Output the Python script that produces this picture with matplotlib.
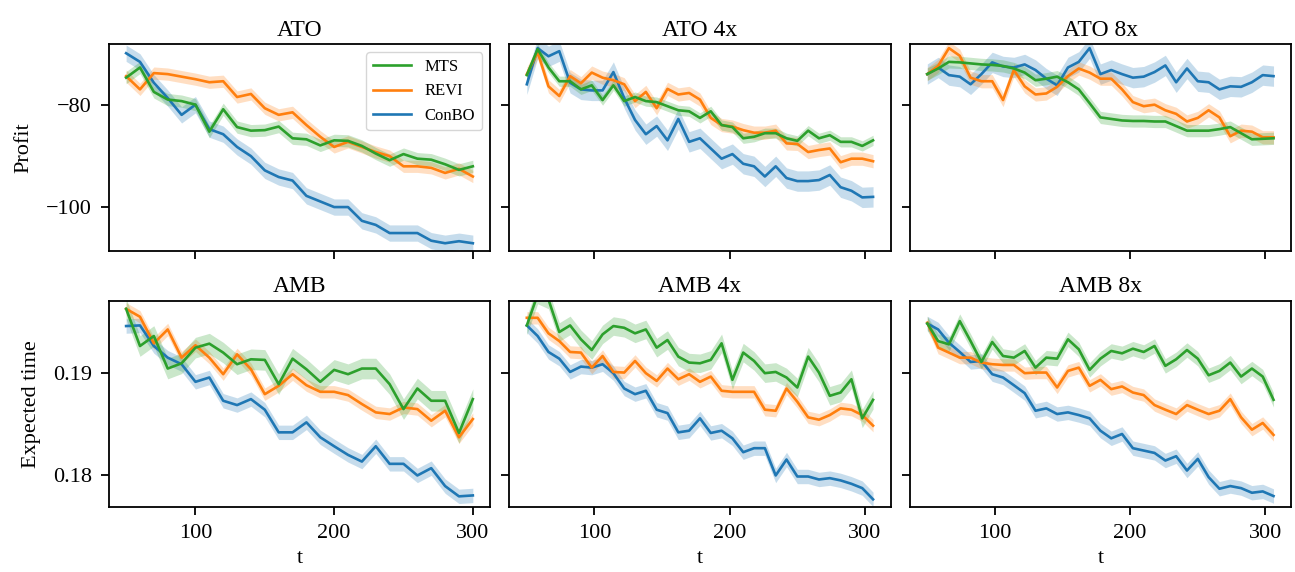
import numpy as np
import matplotlib.pyplot as plt

plt.rcParams['font.family'] = ['Liberation Serif', 'DejaVu Serif']
plt.rcParams['mathtext.fontset'] = 'stix'

# x grids
t_base = np.arange(50, 301, 10)
t_big = np.arange(50, 307, 8)

# ATO
ato_conbo = [-69.9, -71.6, -75.7, -78.7, -82.0, -80.0, -84.8, -85.8, -88.3, -90.1, -92.9, -94.2, -94.9,
             -97.9, -99.0, -100.1, -100.1, -102.8, -103.6, -105.2, -105.2, -105.2, -106.7, -107.2, -106.8, -107.2]
ato_revi = [-74.4, -77.0, -73.8, -74.0, -74.5, -75.0, -75.6, -75.4, -78.5, -77.9, -80.7, -82.0, -81.5,
            -84.0, -86.3, -88.3, -87.3, -88.3, -89.3, -90.1, -92.1, -92.1, -92.4, -93.4, -92.6, -94.1]
ato_mts = [-74.7, -72.7, -77.5, -79.0, -79.3, -80.0, -85.3, -80.9, -84.4, -85.1, -85.0, -84.3, -86.6,
           -86.8, -88.0, -87.0, -87.1, -88.1, -89.6, -90.9, -89.7, -90.6, -90.8, -91.7, -92.8, -92.1]

# ATO 4x
ato4_conbo = [-76.0, -68.9, -70.5, -69.5, -75.7, -77.0, -77.2, -77.2, -73.6, -78.7, -83.0, -85.8, -84.2,
              -87.0, -82.8, -87.3, -86.6, -88.6, -90.6, -89.7, -91.6, -92.1, -94.1, -92.1, -94.4, -95.0,
              -95.0, -94.8, -93.8, -96.2, -96.9, -98.2, -98.1]
ato4_revi = [-74.0, -69.7, -76.4, -78.3, -74.4, -75.8, -73.7, -74.7, -75.2, -76.0, -79.3, -77.5, -80.7,
             -76.9, -78.0, -77.7, -79.0, -82.6, -84.0, -84.3, -85.0, -85.5, -85.5, -85.1, -87.6, -87.7,
             -89.3, -88.9, -88.6, -91.3, -90.6, -90.6, -91.1]
ato4_mts = [-74.2, -69.1, -72.7, -75.4, -75.4, -77.0, -76.2, -79.1, -76.2, -79.3, -78.5, -79.3, -79.5,
            -80.3, -81.1, -81.3, -82.6, -81.3, -84.0, -84.4, -86.6, -86.3, -85.6, -85.6, -86.6, -87.1,
            -85.1, -86.6, -86.0, -87.3, -87.3, -88.1, -87.0]

# ATO 8x
ato8_conbo = [-74.0, -72.7, -74.2, -74.5, -76.0, -74.0, -71.7, -72.5, -72.7, -72.1, -73.2, -74.9, -76.2,
              -72.7, -71.6, -68.9, -74.0, -73.2, -74.0, -74.7, -74.5, -73.6, -72.3, -75.6, -72.9, -75.4,
              -75.6, -77.0, -76.4, -76.5, -75.6, -74.2, -74.4]
ato8_revi = [-74.0, -72.4, -68.9, -70.4, -74.7, -75.4, -75.4, -79.1, -73.2, -76.4, -78.0, -77.8, -76.5,
             -74.4, -72.9, -73.7, -74.9, -74.9, -77.0, -79.5, -80.3, -80.0, -81.1, -81.8, -83.3, -82.6,
             -81.1, -82.5, -86.2, -85.1, -85.3, -86.4, -86.4]
ato8_mts = [-74.0, -72.9, -71.6, -71.7, -71.9, -72.1, -72.2, -72.4, -72.9, -73.7, -75.2, -74.9, -74.5,
            -75.6, -77.0, -79.7, -82.5, -82.8, -83.1, -83.2, -83.2, -83.3, -83.3, -84.2, -85.1, -85.1,
            -85.1, -84.8, -84.4, -85.6, -86.8, -86.7, -86.6]

# AMB
amb_conbo = [0.19452, 0.19458, 0.19258, 0.19145, 0.19081, 0.18910, 0.18952, 0.18726, 0.18684, 0.18742,
             0.18639, 0.18419, 0.18419, 0.18516, 0.18371, 0.18284, 0.18200, 0.18135, 0.18284, 0.18113,
             0.18113, 0.18000, 0.18071, 0.17897, 0.17797, 0.17806]
amb_revi = [0.19619, 0.19542, 0.19284, 0.19419, 0.19145, 0.19265, 0.19145, 0.18984, 0.19177, 0.19032,
            0.18790, 0.18871, 0.18984, 0.18877, 0.18813, 0.18813, 0.18781, 0.18694, 0.18613, 0.18597,
            0.18661, 0.18645, 0.18532, 0.18629, 0.18371, 0.18548]
amb_mts = [0.19619, 0.19258, 0.19355, 0.19039, 0.19090, 0.19242, 0.19281, 0.19194, 0.19081, 0.19129,
           0.19123, 0.18887, 0.19135, 0.19032, 0.18910, 0.19026, 0.18984, 0.19039, 0.19039, 0.18887,
           0.18645, 0.18845, 0.18726, 0.18726, 0.18413, 0.18742]

# AMB 4x
amb4_conbo = [0.19458, 0.19355, 0.19200, 0.19135, 0.19006, 0.19058, 0.19048, 0.19081, 0.18994, 0.18845,
              0.18790, 0.18823, 0.18639, 0.18606, 0.18419, 0.18435, 0.18555, 0.18413, 0.18435, 0.18361,
              0.18226, 0.18265, 0.18265, 0.18000, 0.18155, 0.17990, 0.17990, 0.17961, 0.17974, 0.17952,
              0.17919, 0.17877, 0.17768]
amb4_revi = [0.19532, 0.19532, 0.19381, 0.19306, 0.19200, 0.19194, 0.19048, 0.19161, 0.19006, 0.19000,
             0.19113, 0.18994, 0.18919, 0.19039, 0.18935, 0.18984, 0.18910, 0.18961, 0.18823, 0.18813,
             0.18813, 0.18813, 0.18639, 0.18629, 0.18845, 0.18716, 0.18565, 0.18542, 0.18587, 0.18652,
             0.18639, 0.18587, 0.18484]
amb4_mts = [0.19458, 0.19758, 0.19710, 0.19394, 0.19458, 0.19323, 0.19219, 0.19371, 0.19452, 0.19435,
            0.19381, 0.19419, 0.19242, 0.19316, 0.19155, 0.19097, 0.19090, 0.19123, 0.19284, 0.18929,
            0.19194, 0.19113, 0.18994, 0.19006, 0.18952, 0.18855, 0.19155, 0.19000, 0.18774, 0.18806,
            0.18935, 0.18555, 0.18735]

# AMB 8x
amb8_conbo = [0.19477, 0.19419, 0.19290, 0.19200, 0.19103, 0.19113, 0.18984, 0.18952, 0.18877, 0.18800,
              0.18629, 0.18652, 0.18597, 0.18613, 0.18587, 0.18555, 0.18435, 0.18361, 0.18403, 0.18265,
              0.18242, 0.18219, 0.18145, 0.18187, 0.18048, 0.18161, 0.17984, 0.17871, 0.17897, 0.17877,
              0.17832, 0.17845, 0.17800]
amb8_revi = [0.19484, 0.19242, 0.19194, 0.19145, 0.19145, 0.19097, 0.19081, 0.19074, 0.19074, 0.18994,
             0.19000, 0.19000, 0.18855, 0.19016, 0.19048, 0.18871, 0.18929, 0.18839, 0.18865, 0.18806,
             0.18781, 0.18684, 0.18639, 0.18597, 0.18684, 0.18639, 0.18597, 0.18629, 0.18742, 0.18565,
             0.18445, 0.18510, 0.18394]
amb8_mts = [0.19477, 0.19306, 0.19274, 0.19500, 0.19306, 0.19103, 0.19297, 0.19161, 0.19145, 0.19210,
            0.19048, 0.19145, 0.19135, 0.19323, 0.19226, 0.19026, 0.19135, 0.19210, 0.19187, 0.19232,
            0.19200, 0.19258, 0.19065, 0.19129, 0.19219, 0.19135, 0.18974, 0.19016, 0.19097, 0.18961,
            0.19039, 0.18961, 0.18735]

# half widths of the shaded bands (MTS, REVI, ConBO)
bands = {
    'ATO': (1.2, 1.2, 1.6),
    'ATO 4x': (1.0, 1.3, 2.0),
    'ATO 8x': (1.2, 1.3, 2.0),
    'AMB': (0.0010, 0.0006, 0.0007),
    'AMB 4x': (0.0009, 0.0006, 0.0007),
    'AMB 8x': (0.0007, 0.0006, 0.0007),
}

panels = [
    ('ATO', t_base, ato_mts, ato_revi, ato_conbo),
    ('ATO 4x', t_big, ato4_mts, ato4_revi, ato4_conbo),
    ('ATO 8x', t_big, ato8_mts, ato8_revi, ato8_conbo),
    ('AMB', t_base, amb_mts, amb_revi, amb_conbo),
    ('AMB 4x', t_big, amb4_mts, amb4_revi, amb4_conbo),
    ('AMB 8x', t_big, amb8_mts, amb8_revi, amb8_conbo),
]

names = ['MTS', 'REVI', 'ConBO']
colors = ['tab:green', 'tab:orange', 'tab:blue']


def main():
    fig, axes = plt.subplots(2, 3, figsize=(12.95, 5.72), dpi=100, sharex='col', sharey='row')
    fig.subplots_adjust(left=0.084, right=0.997, top=0.923, bottom=0.113, wspace=0.05, hspace=0.24)

    for ax, (title, t, mts, revi, conbo) in zip(axes.flat, panels):
        series = [mts, revi, conbo]
        hw = bands[title]
        handles = []
        for k in [2, 1, 0]:
            y = np.array(series[k])
            ax.fill_between(t, y - hw[k], y + hw[k], color=colors[k], alpha=0.25, lw=0)
            h, = ax.plot(t, y, color=colors[k], lw=1.9, label=names[k])
            handles.insert(0, h)
        ax.set_title(title, fontsize=17)
        ax.tick_params(labelsize=16, width=1.3, length=6, pad=6)
        for s in ax.spines.values():
            s.set_linewidth(1.3)
        if title == 'ATO':
            ax.legend(handles=handles, loc='upper right', fontsize=12, handlelength=2.3)

    axes[0, 0].set_ylim(-108.7, -68.1)
    axes[0, 0].set_yticks([-80, -100])
    axes[1, 0].set_ylim(0.1769, 0.1970)
    axes[1, 0].set_yticks([0.18, 0.19])
    axes[1, 0].set_yticklabels(['0.18', '0.19'])
    axes[0, 0].set_xlim(37.5, 312.5)
    axes[0, 1].set_xlim(37, 319)
    axes[0, 2].set_xlim(37, 319)
    for ax in axes[1]:
        ax.set_xticks([100, 200, 300])
        ax.set_xlabel('t', fontsize=16)
    axes[0, 0].set_ylabel('Profit', fontsize=16, labelpad=9)
    axes[1, 0].set_ylabel('Expected time', fontsize=16, labelpad=9)

    fig.savefig('out.png')


if __name__ == '__main__':
    main()
